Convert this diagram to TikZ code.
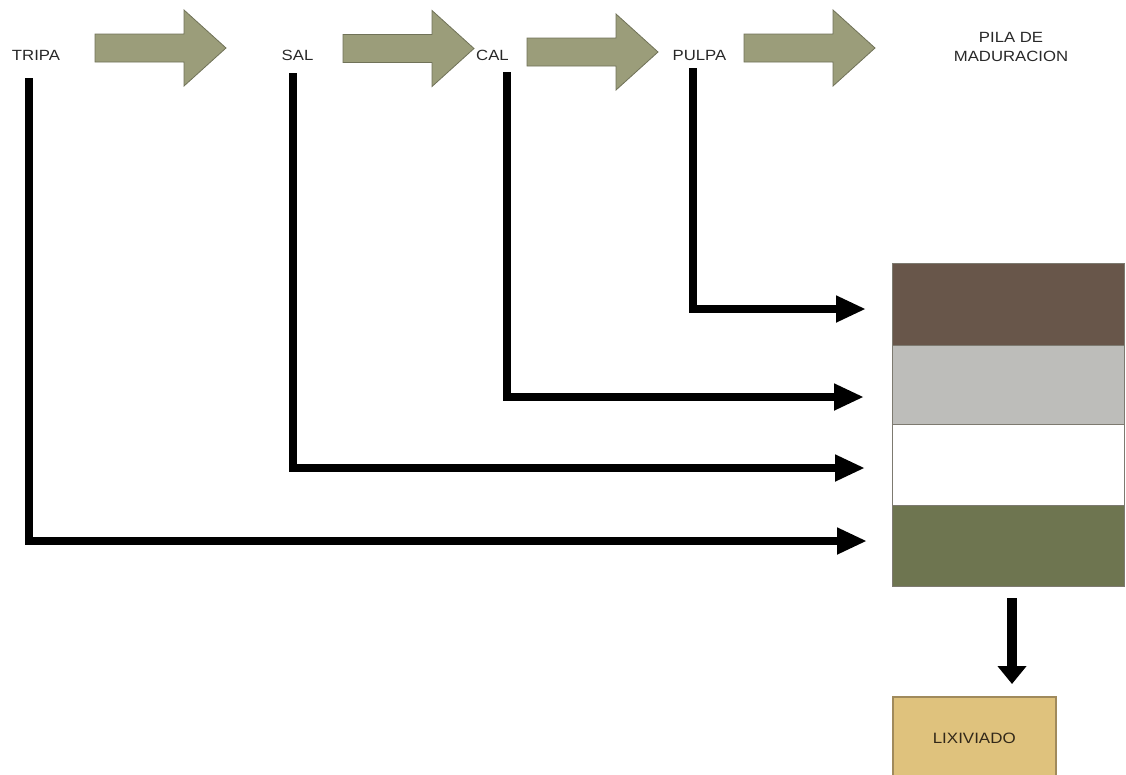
\documentclass[tikz,border=0pt]{standalone}
\usepackage{graphicx}
\usepackage{fontspec}
\setmainfont{Liberation Sans}
\usetikzlibrary{arrows.meta}

\definecolor{pilabrown}{RGB}{104,86,74}
\definecolor{pilagray}{RGB}{189,189,186}
\definecolor{pilagreen}{RGB}{110,117,80}
\definecolor{pilaedge}{RGB}{125,122,112}
\definecolor{lixfill}{RGB}{223,194,125}
\definecolor{lixedge}{RGB}{160,138,92}
\definecolor{blkfill}{RGB}{155,157,122}
\definecolor{blkedge}{RGB}{112,114,88}
\definecolor{labeltext}{RGB}{40,40,40}

% slightly widened lettering
\newcommand{\wideword}[1]{\scalebox{1.13}[1]{#1}}

\tikzset{
  lbl/.style={font=\fontsize{14.8}{19}\selectfont, text=labeltext, inner sep=0pt, align=center},
  feed/.style={line width=8pt, line join=miter, -{Triangle[length=30pt,width=25pt]}},
  layer/.style={anchor=north west, draw=pilaedge, line width=1pt, minimum width=232pt, inner sep=0pt},
  pics/blockarrow/.style={code={
    \filldraw[fill=blkfill, draw=blkedge, line width=0.8pt, line join=miter]
      (0,-14) -- (89,-14) -- (89,-38) -- (131,0) -- (89,38) -- (89,14) -- (0,14) -- cycle;
  }}
}

\begin{document}
\begin{tikzpicture}[x=1pt, y=-1pt]
  \useasboundingbox (0,0) rectangle (1126,774);

  % process steps along the top
  \node[lbl] (tripa) at (36,55) {\wideword{TRIPA}};
  \node[lbl] (sal)   at (297.5,55) {\wideword{SAL}};
  \node[lbl] (cal)   at (492.5,55.5) {\wideword{CAL}};
  \node[lbl] (pulpa) at (699.5,55) {\wideword{PULPA}};
  \node[lbl] (pila)  at (1011,47) {\wideword{PILA DE}\\\wideword{MADURACION}};

  % block arrows between the steps
  \pic at (95,48)  {blockarrow};
  \pic at (343,48.5) {blockarrow};
  \pic at (527,52) {blockarrow};
  \pic at (744,48) {blockarrow};

  % layers of the maturation pile
  \node[layer, fill=pilabrown, minimum height=82pt] (capa1) at (892,263) {};
  \node[layer, fill=pilagray,  minimum height=79pt] (capa2) at (892,345) {};
  \node[layer, fill=white,     minimum height=81pt] (capa3) at (892,424) {};
  \node[layer, fill=pilagreen, minimum height=81pt] (capa4) at (892,505) {};

  % leachate collector
  \node[anchor=north west, draw=lixedge, line width=1.5pt, fill=lixfill,
        minimum width=163pt, minimum height=84pt, inner sep=0pt,
        font=\fontsize{15}{19}\selectfont, text={rgb,255:red,50;green,40;blue,25}]
        (lix) at (892,696) {\wideword{LIXIVIADO}};

  % feed lines into each layer
  \coordinate (s1) at (29,78);   \coordinate (e1) at (867,541);
  \coordinate (s2) at (293,73);  \coordinate (e2) at (865,468);
  \coordinate (s3) at (507,72);  \coordinate (e3) at (864,397);
  \coordinate (s4) at (693,68);  \coordinate (e4) at (866,309);
  \draw[feed] (s1) |- (e1);
  \draw[feed] (s2) |- (e2);
  \draw[feed] (s3) |- (e3);
  \draw[feed] (s4) |- (e4);

  % drainage from the pile to the collector
  \coordinate (d1) at (1012,598);
  \coordinate (d2) at (1012,684);
  \draw[line width=10pt, -{Triangle[length=18pt,width=28pt]}] (d1) -- (d2);
\end{tikzpicture}
\end{document}
